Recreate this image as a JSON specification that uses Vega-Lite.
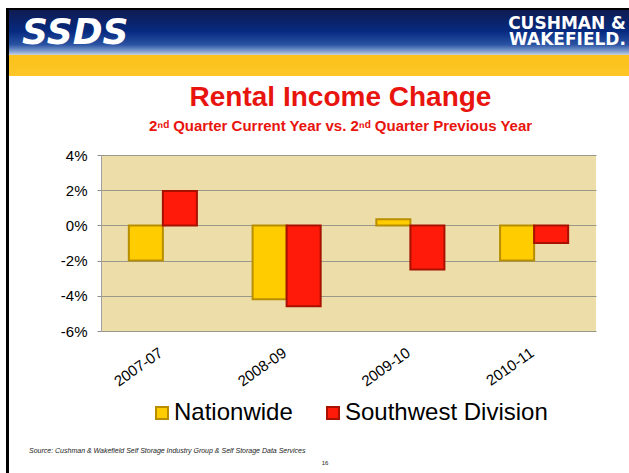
{
  "$schema": "https://vega.github.io/schema/vega-lite/v6.json",
  "padding": {"left": 6, "top": 8, "right": 0, "bottom": 0},
  "background": "white",
  "spacing": 0,
  "config": {
    "view": {"stroke": null},
    "font": "Liberation Sans",
    "concat": {"spacing": 0},
    "legend": {"layout": {"bottom": {"anchor": "middle"}}}
  },
  "resolve": {"scale": {"fill": "independent", "stroke": "independent"}, "legend": {"fill": "independent", "stroke": "independent"}},
  "hconcat": [
    {
      "width": 3,
      "height": 465,
      "data": {"values": [{}]},
      "mark": {"type": "rect", "color": "black"},
      "encoding": {}
    },
    {
      "spacing": 0,
      "resolve": {"scale": {"fill": "independent", "stroke": "independent"}, "legend": {"fill": "independent", "stroke": "independent"}},
      "vconcat": [
        {
          "width": 620,
          "height": 47,
          "layer": [
            {
              "data": {"values": [{}]},
              "mark": {
                "type": "rect",
                "color": {
                  "gradient": "linear",
                  "x1": 0, "y1": 0, "x2": 0, "y2": 1,
                  "stops": [
                    {"offset": 0, "color": "#000000"},
                    {"offset": 0.04, "color": "#000000"},
                    {"offset": 0.045, "color": "#0f1c52"},
                    {"offset": 0.5, "color": "#062a80"},
                    {"offset": 0.78, "color": "#2a53a3"},
                    {"offset": 0.94, "color": "#8ea9d6"},
                    {"offset": 1, "color": "#c9d2dc"}
                  ]
                }
              },
              "encoding": {}
            },
            {
              "data": {"values": [{"side": "L", "t": "SSDS"}]},
              "mark": {"type": "text", "align": "left", "baseline": "middle", "font": "DejaVu Sans", "fontSize": 36, "fontWeight": "bold", "fontStyle": "italic", "color": "white", "dy": 1},
              "encoding": {
                "x": {"field": "side", "type": "nominal", "scale": {"type": "point", "domain": ["L", "R"], "padding": 0.022}, "axis": null},
                "text": {"field": "t"}
              }
            },
            {
              "data": {"values": [{"side": "R", "t": "CUSHMAN &"}]},
              "mark": {"type": "text", "align": "right", "baseline": "middle", "font": "DejaVu Sans", "fontSize": 17, "fontWeight": "bold", "color": "white", "dx": 10, "dy": -8},
              "encoding": {
                "x": {"field": "side", "type": "nominal", "scale": {"type": "point", "domain": ["L", "R"], "padding": 0.022}, "axis": null},
                "text": {"field": "t"}
              }
            },
            {
              "data": {"values": [{"side": "R", "t": "WAKEFIELD."}]},
              "mark": {"type": "text", "align": "right", "baseline": "middle", "font": "DejaVu Sans", "fontSize": 17, "fontWeight": "bold", "color": "white", "dx": 10, "dy": 8},
              "encoding": {
                "x": {"field": "side", "type": "nominal", "scale": {"type": "point", "domain": ["L", "R"], "padding": 0.022}, "axis": null},
                "text": {"field": "t"}
              }
            }
          ]
        },
        {
          "width": 620,
          "height": 29,
          "data": {"values": [{}]},
          "mark": {
            "type": "rect",
            "color": {
              "gradient": "linear",
              "x1": 0, "y1": 0, "x2": 0, "y2": 1,
              "stops": [
                {"offset": 0, "color": "#FBC01A"},
                {"offset": 0.724, "color": "#FDC727"},
                {"offset": 0.724, "color": "#FFFFFF"},
                {"offset": 1, "color": "#FFFFFF"}
              ]
            }
          },
          "encoding": {}
        },
        {
          "spacing": 0,
          "resolve": {"scale": {"fill": "independent", "stroke": "independent"}, "legend": {"fill": "independent", "stroke": "independent"}},
          "hconcat": [
            {
              "width": 1,
              "height": 1,
              "data": {"values": [{}]},
              "mark": {"type": "rect", "opacity": 0},
              "encoding": {}
            },
            {
              "width": 495,
              "height": 176,
              "view": {"fill": "#EDDDA8", "stroke": null},
              "title": {
                "text": "Rental Income Change",
                "subtitle": "2ⁿᵈ Quarter Current Year vs. 2ⁿᵈ Quarter Previous Year",
                "font": "Liberation Sans",
                "subtitleFont": "Liberation Sans",
                "fontSize": 28,
                "fontWeight": "bold",
                "color": "#E8140E",
                "subtitleFontSize": 15,
                "subtitleFontWeight": "bold",
                "subtitleColor": "#E8140E",
                "subtitlePadding": 7,
                "offset": 14,
                "anchor": "middle",
                "dx": -8
              },
              "data": {
                "values": [
                  {"period": "2007-07", "series": "Nationwide", "value": -2.0},
                  {"period": "2007-07", "series": "Southwest Division", "value": 1.95},
                  {"period": "2008-09", "series": "Nationwide", "value": -4.2},
                  {"period": "2008-09", "series": "Southwest Division", "value": -4.6},
                  {"period": "2009-10", "series": "Nationwide", "value": 0.35},
                  {"period": "2009-10", "series": "Southwest Division", "value": -2.5},
                  {"period": "2010-11", "series": "Nationwide", "value": -2.0},
                  {"period": "2010-11", "series": "Southwest Division", "value": -1.0}
                ]
              },
              "mark": {"type": "bar", "strokeWidth": 2},
              "encoding": {
                "x": {
                  "field": "period", "type": "nominal", "sort": null,
                  "scale": {"paddingInner": 0.45, "paddingOuter": 0.225},
                  "axis": {"labelAngle": -35, "labelAlign": "right", "labelBaseline": "top", "labelFontSize": 15, "labelColor": "black", "labelPadding": 14, "labelOffset": -6, "ticks": false, "domain": false, "title": null, "grid": false}
                },
                "xOffset": {"field": "series", "type": "nominal", "sort": ["Nationwide", "Southwest Division"], "scale": {"paddingInner": 0, "paddingOuter": 0}},
                "y": {
                  "field": "value", "type": "quantitative",
                  "scale": {"domain": [-6, 4], "nice": false},
                  "axis": {"values": [-6, -4, -2, 0, 2, 4], "labelExpr": "datum.value + '%'", "labelFontSize": 15, "labelColor": "black", "labelPadding": 10, "tickSize": 4, "tickColor": "#8c8c8c", "domainColor": "#a0a0a0", "gridColor": "#9a9888", "gridOpacity": 1, "minExtent": 91, "title": null}
                },
                "fill": {
                  "field": "series", "type": "nominal",
                  "scale": {"domain": ["Nationwide", "Southwest Division"], "range": ["#FFCC00", "#FF1A0A"]},
                  "legend": {"orient": "bottom", "direction": "horizontal", "title": null, "labelFontSize": 24, "labelColor": "black", "labelLimit": 400, "symbolType": "square", "symbolSize": 144, "symbolStrokeWidth": 2, "labelOffset": 0, "columnPadding": 28, "offset": 12}
                },
                "stroke": {
                  "field": "series", "type": "nominal",
                  "scale": {"domain": ["Nationwide", "Southwest Division"], "range": ["#B88E00", "#A81000"]},
                  "legend": {"orient": "bottom", "direction": "horizontal", "title": null, "labelFontSize": 24, "labelColor": "black", "labelLimit": 400, "symbolType": "square", "symbolSize": 144, "symbolStrokeWidth": 2, "labelOffset": 0, "columnPadding": 28, "offset": 12}
                }
              }
            }
          ]
        },
        {
          "width": 620,
          "height": 22,
          "data": {"values": [{}]},
          "mark": {"type": "rect", "opacity": 0},
          "encoding": {},
          "title": {"text": "Source: Cushman & Wakefield Self Storage Industry Group & Self Storage Data Services", "orient": "bottom", "anchor": "start", "fontSize": 7, "fontStyle": "italic", "fontWeight": "normal", "color": "#222222", "dx": 20, "offset": 0}
        },
        {
          "width": 620,
          "height": 1,
          "data": {"values": [{}]},
          "mark": {"type": "rect", "opacity": 0},
          "encoding": {},
          "title": {"text": "16", "orient": "bottom", "anchor": "middle", "fontSize": 6, "fontWeight": "normal", "color": "#222222", "dx": 6, "offset": 5}
        }
      ]
    }
  ]
}
